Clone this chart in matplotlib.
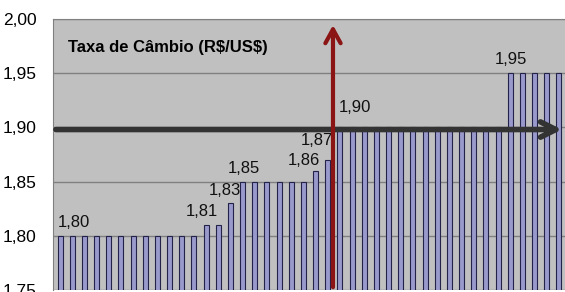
import matplotlib
matplotlib.use("Agg")
import matplotlib.pyplot as plt
import numpy as np

plt.rcParams['font.family'] = ['Liberation Sans', 'DejaVu Sans']

# taxa de câmbio por período
rates = [1.80] * 12 + [1.81] * 2 + [1.83] + [1.85] * 6 + [1.86, 1.87] + [1.90] * 14 + [1.95] * 5
yticks = [1.75, 1.80, 1.85, 1.90, 1.95, 2.00]
ytick_labels = ['1,75', '1,80', '1,85', '1,90', '1,95', '2,00']

# rótulos de dados (texto, posição x em índice de barra, altura)
label_texts = ['1,80', '1,81', '1,83', '1,85', '1,86', '1,87', '1,90', '1,95']
label_x = [1.15, 11.67, 13.56, 15.1, 20.05, 21.1, 24.2, 37.06]
label_y = [1.812, 1.822, 1.842, 1.862, 1.869, 1.888, 1.918, 1.963]

target_rate = 1.898   # seta horizontal
break_index = 22.43   # seta vertical

fig = plt.figure(figsize=(5.65, 2.92), dpi=100)
ax = fig.add_axes([0.094, 0.007, 0.906, 0.928])
ax.set_facecolor('#C0C0C0')

x = np.arange(len(rates))
ax.bar(x, rates, width=0.42, color='#9999CC', edgecolor='#23234A', linewidth=0.8, zorder=2)

ax.set_ylim(1.75, 2.00)
ax.set_xlim(-0.575, len(rates) - 0.5)
ax.set_yticks(yticks)
ax.set_yticklabels(ytick_labels, fontsize=12.5)
ax.set_xticks([])
ax.tick_params(axis='y', length=0, pad=12)
ax.yaxis.grid(True, color='#808080', linewidth=1.0, zorder=1)
ax.set_axisbelow(True)

for s in ['top', 'left']:
    ax.spines[s].set_color('#808080')
for s in ['right', 'bottom']:
    ax.spines[s].set_visible(False)

for t, lx, ly in zip(label_texts, label_x, label_y):
    ax.text(lx, ly, t, ha='center', va='center', fontsize=12, color='#111111', zorder=4)

ax.text(0.029, 0.895, r'Taxa de Câmbio (R\$/US\$)', transform=ax.transAxes,
        fontsize=12, fontweight='bold', va='center', ha='left')

# seta horizontal preta
ax.annotate('', xy=(len(rates) - 0.52, target_rate), xytext=(-0.575, target_rate),
            arrowprops=dict(arrowstyle='->,head_length=1.1,head_width=0.55',
                            color='#333333', lw=4), zorder=5)
# seta vertical vermelha
ax.annotate('', xy=(break_index, 1.997), xytext=(break_index, 1.75),
            arrowprops=dict(arrowstyle='->,head_length=1.0,head_width=0.55',
                            color='#8B1414', lw=3), zorder=6)

plt.savefig('out.png', dpi=100)
plt.close(fig)
